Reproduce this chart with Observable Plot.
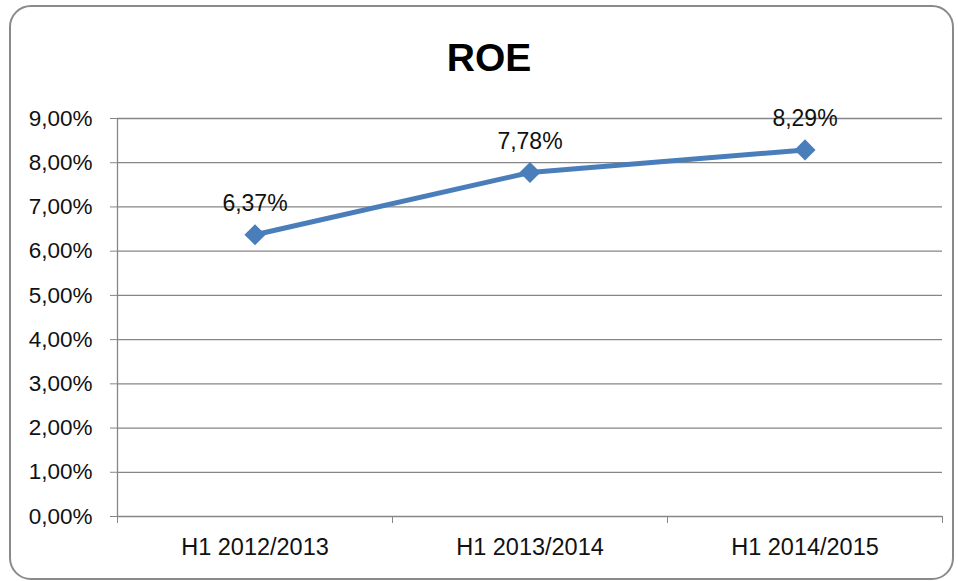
<!DOCTYPE html>
<html><head><meta charset="utf-8">
<script src="https://cdn.jsdelivr.net/npm/d3@7"></script>
<script src="https://cdn.jsdelivr.net/npm/@observablehq/plot@0.6"></script>
<style>
body{margin:0;background:#fff;}
#wrap{position:relative;width:958px;height:581px;overflow:hidden;background:#fff;}
#frame{position:absolute;left:9px;top:5px;width:945px;height:575px;border:2.5px solid #8a8a8a;border-radius:22px;box-sizing:border-box;pointer-events:none;}
#title{position:absolute;left:10px;width:958px;top:36px;line-height:40px;text-align:center;font:bold 39px 'Liberation Sans',Arial,sans-serif;color:#000;}
#chart{position:absolute;left:0;top:0;}
</style>
</head><body>
<div id="wrap"><div id="chart"></div><div id="title">ROE</div><div id="frame"></div></div>
<script>
const categories = ["H1 2012/2013", "H1 2013/2014", "H1 2014/2015"];
const roeValues = [0.0637, 0.0778, 0.0829];
const yTicks = [0, 0.01, 0.02, 0.03, 0.04, 0.05, 0.06, 0.07, 0.08, 0.09];

const locale = d3.formatLocale({decimal: ",", thousands: ".", grouping: [3], currency: ["", " €"]});
const fmt = locale.format(".2%");

const rows = categories.map((c, i) => ({cat: c, pos: i + 0.5, roe: roeValues[i]}));
const centers = rows.map(d => d.pos);
const bounds = d3.range(categories.length + 1);
const font = "'Liberation Sans', Arial, sans-serif";

const chart = Plot.plot({
  width: 958,
  height: 581,
  marginLeft: 117,
  marginRight: 16,
  marginTop: 118,
  marginBottom: 65,
  style: {fontFamily: font, background: "transparent", color: "#000"},
  x: {type: "linear", domain: [0, categories.length]},
  y: {domain: [0, 0.09]},
  marks: [
    Plot.gridY(yTicks, {stroke: "#868686", strokeOpacity: 1, strokeWidth: 1.3}),
    Plot.ruleX([0], {stroke: "#868686", strokeWidth: 1.3}),
    Plot.axisY(yTicks, {tickFormat: fmt, tickSize: 7, tickPadding: 18, fontSize: 22.5, stroke: "#868686", fill: "#111", label: null}),
    Plot.axisX(bounds, {tickSize: 7, tickFormat: () => "", stroke: "#868686", label: null}),
    Plot.axisX(centers, {tickSize: 0, tickPadding: 22, fontSize: 23.5, fill: "#111", tickFormat: v => categories[Math.round(v - 0.5)], label: null}),
    Plot.line(rows, {x: "pos", y: "roe", stroke: "#4a7ebb", strokeWidth: 5}),
    Plot.dot(rows, {x: "pos", y: "roe", symbol: "diamond2", r: 9.5, fill: "#4a7ebb", stroke: "none"}),
    Plot.text(rows, {x: "pos", y: "roe", text: d => fmt(d.roe), dy: -31, fontSize: 23, fill: "#111"})
  ]
});
document.getElementById("chart").appendChild(chart);
</script>
</body></html>
